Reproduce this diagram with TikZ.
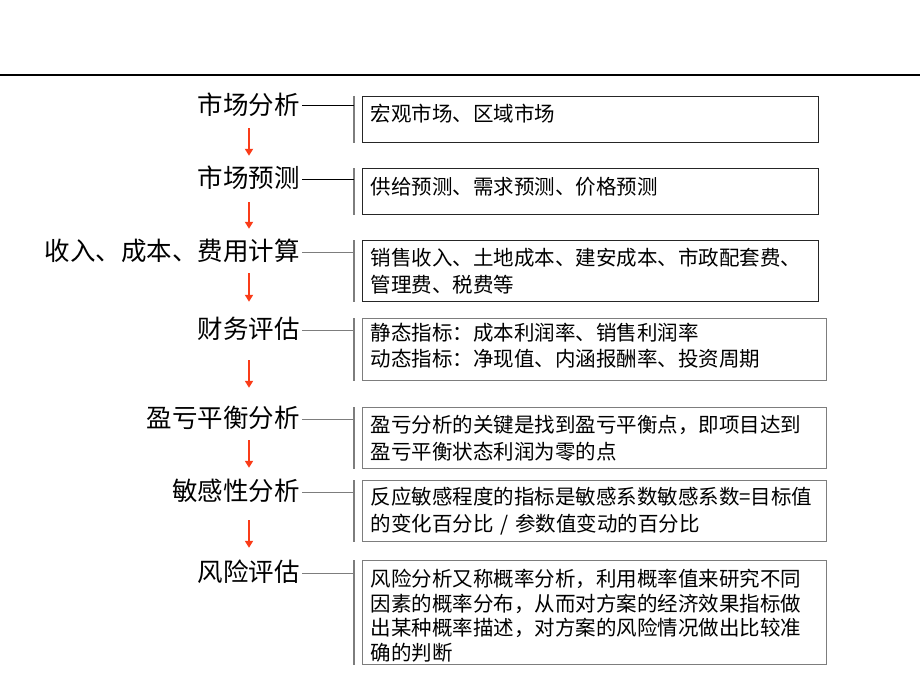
\documentclass[tikz,border=0pt]{standalone}
\usepackage{fontspec}
\setmainfont{Noto Sans CJK SC}
\usetikzlibrary{arrows.meta}

\definecolor{flowred}{RGB}{250,60,25}
\definecolor{rulegray}{RGB}{125,125,125}

\begin{document}
\begin{tikzpicture}[x=1pt, y=-1pt,
  stage/.style={anchor=east, inner sep=0pt, text height=20pt, text depth=4pt, font=\fontsize{25.5}{30}\selectfont},
  info/.style={draw=black!85, line width=1pt, anchor=north west, align=left, text width=440pt, inner xsep=8pt, inner ysep=4pt, font=\fontsize{20.5}{26.5}\selectfont},
  infogray/.style={info, draw=rulegray, text width=448pt},
  link/.style={line width=1pt, draw=rulegray},
  bracket/.style={line width=1.3pt, draw=rulegray},
  flow/.style={draw=flowred, line width=2.4pt, -{Triangle[width=8pt,length=7pt]}}]
\useasboundingbox (0,0) rectangle (920,690);
\draw[line width=1.5pt] (0,75) -- (920,75);
\coordinate (axis) at (249,0);

% stages on the left
\node[stage](lab1) at (300,106) {市场分析};
\node[stage](lab2) at (300,179) {市场预测};
\node[stage](lab3) at (300,252) {收入、成本、费用计算};
\node[stage](lab4) at (300,330) {财务评估};
\node[stage](lab5) at (300,419) {盈亏平衡分析};
\node[stage](lab6) at (300,492) {敏感性分析};
\node[stage](lab7) at (300,573) {风险评估};

% explanation boxes
\node[info, minimum height=46pt, text depth=14pt](box1) at (362,96) {宏观市场、区域市场};
\node[info, minimum height=46pt, text depth=12pt](box2) at (362,168) {供给预测、需求预测、价格预测};
\node[info, minimum height=61pt](box3) at (362,240) {销售收入、土地成本、建安成本、市政配套费、\\管理费、税费等};
\node[infogray, minimum height=62pt, text depth=36pt](box4) at (362,318) {静态指标：成本利润率、销售利润率\\动态指标：净现值、内涵报酬率、投资周期};
\node[infogray, minimum height=61pt](box5) at (362,407) {盈亏分析的关键是找到盈亏平衡点，即项目达到\\盈亏平衡状态利润为零的点};
\node[infogray, minimum height=61pt](box6) at (362,480) {反应敏感程度的指标是敏感系数敏感系数=目标值\\的变化百分比 / 参数值变动的百分比};
\node[infogray, minimum height=104pt, text depth=69pt, font=\fontsize{20.5}{24.5}\selectfont](box7) at (362,560) {风险分析又称概率分析，利用概率值来研究不同\\因素的概率分布，从而对方案的经济效果指标做\\出某种概率描述，对方案的风险情况做出比较准\\确的判断};

\foreach \i in {1,...,7} {
  \draw[bracket] ([xshift=-8pt]box\i.north west) -- ([xshift=-8pt]box\i.south west);
}
\foreach \i in {1,2} \draw[link, draw=black] ([xshift=2pt]lab\i.east) -- ([xshift=-8pt]box\i.west |- lab\i.east);
\foreach \i in {3,...,7} \draw[link] ([xshift=2pt]lab\i.east) -- ([xshift=-8pt]box\i.west |- lab\i.east);

% red arrows between stages
\foreach \a/\b/\s/\e in {lab1/lab2/10/11, lab2/lab3/11/11, lab3/lab4/9/16, lab4/lab5/18/19, lab5/lab6/9/12, lab6/lab7/16/13}
  \draw[flow] ([yshift=-\s pt]\a.south -| axis) -- ([yshift=\e pt]\b.north -| axis);
\end{tikzpicture}
\end{document}
